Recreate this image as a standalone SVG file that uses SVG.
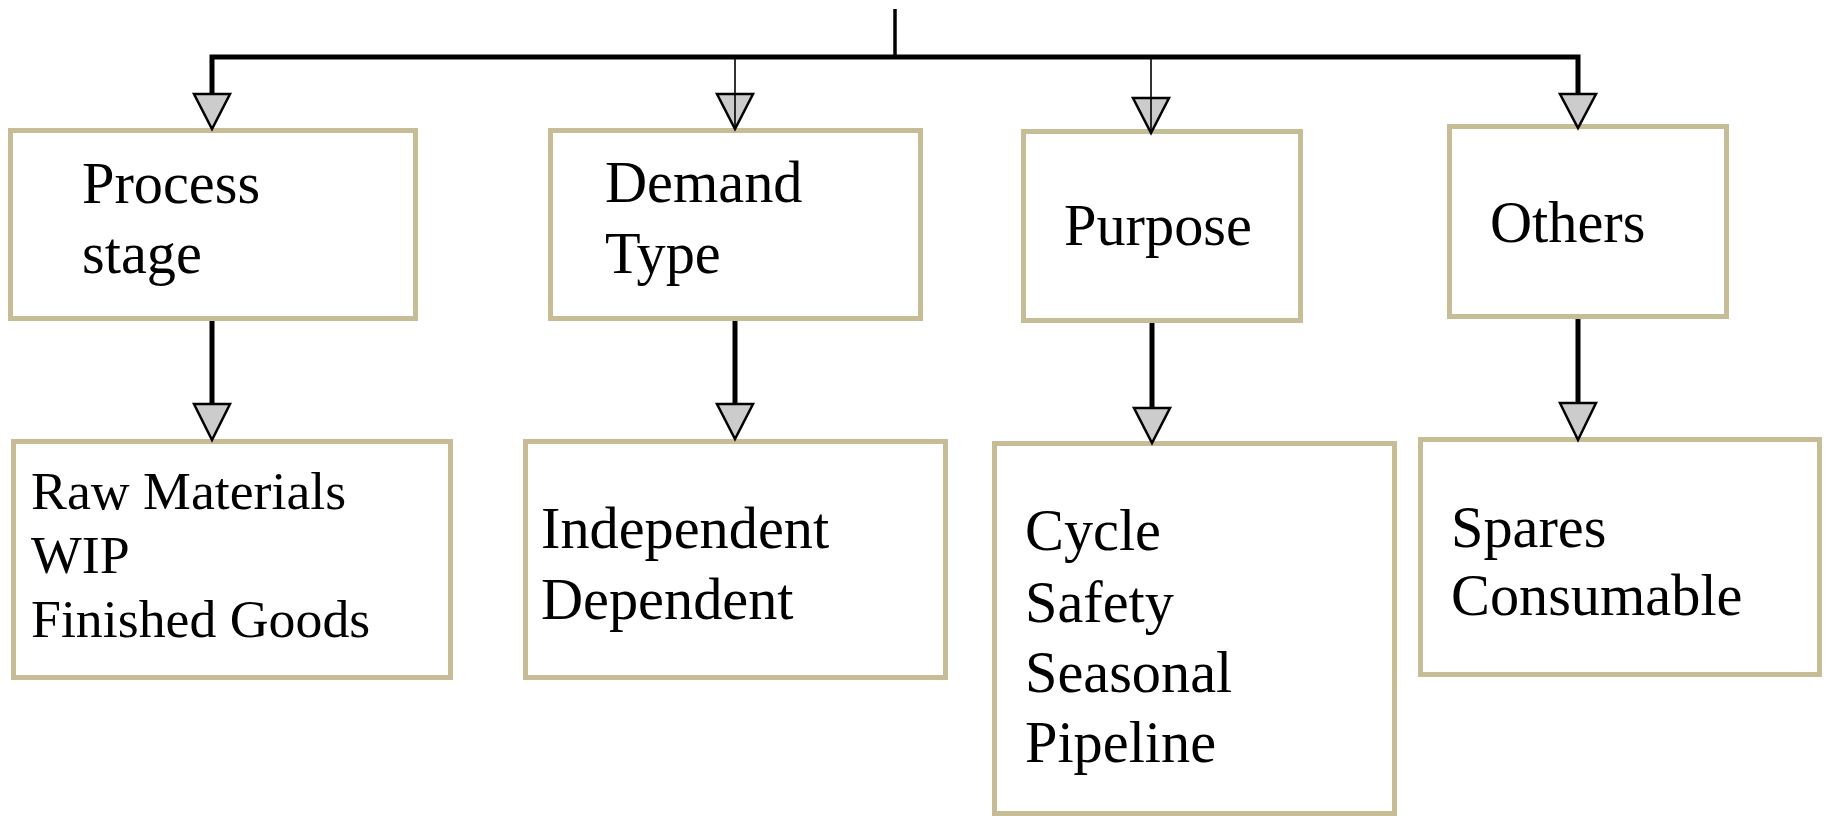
<svg xmlns="http://www.w3.org/2000/svg" width="1827" height="816" viewBox="0 0 1827 816">
<style>
.box{fill:#ffffff;stroke:#c6bd96;stroke-width:5}
.t{font-family:"Liberation Serif","Times New Roman",serif;font-size:58.3px;fill:#000}
.ts{font-family:"Liberation Serif","Times New Roman",serif;font-size:53.8px;fill:#000}
.thick{fill:none;stroke:#000;stroke-width:5}
.mid{fill:none;stroke:#000;stroke-width:3.5}
.thin{fill:none;stroke:#000;stroke-width:1.6}
.head{fill:#cccccc;stroke:#000;stroke-width:2.5;stroke-linejoin:miter}
</style>
<rect width="1827" height="816" fill="#ffffff"/>
<g id="n-process">
<rect class="box" x="10.5" y="130.5" width="405" height="188"/>
<text class="t" x="82" y="203">Process</text>
<text class="t" x="82" y="273">stage</text>
</g>
<g id="n-demand">
<rect class="box" x="550.5" y="130.5" width="370" height="188"/>
<text class="t" x="605" y="202">Demand</text>
<text class="t" x="605" y="273">Type</text>
</g>
<g id="n-purpose">
<rect class="box" x="1023.5" y="131.5" width="277" height="189"/>
<text class="t" x="1064" y="245">Purpose</text>
</g>
<g id="n-others">
<rect class="box" x="1449.5" y="126.5" width="277" height="190"/>
<text class="t" x="1490" y="242">Others</text>
</g>
<g id="n-stage-items">
<rect class="box" x="13.5" y="441.5" width="437" height="236"/>
<text class="ts" x="31" y="509">Raw Materials</text>
<text class="ts" x="31" y="573">WIP</text>
<text class="ts" x="31" y="637">Finished Goods</text>
</g>
<g id="n-demand-items">
<rect class="box" x="525.5" y="441.5" width="420" height="236"/>
<text class="t" x="541" y="548">Independent</text>
<text class="t" x="541" y="619">Dependent</text>
</g>
<g id="n-purpose-items">
<rect class="box" x="994.5" y="443.5" width="400" height="370"/>
<text class="t" x="1025" y="550">Cycle</text>
<text class="t" x="1025" y="622">Safety</text>
<text class="t" x="1025" y="692">Seasonal</text>
<text class="t" x="1025" y="762">Pipeline</text>
</g>
<g id="n-others-items">
<rect class="box" x="1420.5" y="439.5" width="399" height="235"/>
<text class="t" x="1451" y="547">Spares</text>
<text class="t" x="1451" y="615">Consumable</text>
</g>
<g id="connectors">
<line class="mid" x1="895" y1="9" x2="895" y2="57"/>
<path class="thick" d="M212,94 V57 H1578 V94" stroke-linejoin="miter"/>
<polygon class="head" points="194,94 230,94 212,129"/>
<line class="thin" x1="735" y1="57" x2="735" y2="129"/>
<polygon class="head" points="717,94 753,94 735,129"/>
<line class="thin" x1="735" y1="94" x2="735" y2="129"/>
<line class="thin" x1="1151" y1="57" x2="1151" y2="133"/>
<polygon class="head" points="1133,98 1169,98 1151,133"/>
<line class="thin" x1="1151" y1="98" x2="1151" y2="133"/>
<polygon class="head" points="1560,94 1596,94 1578,128"/>
<line class="thick" x1="212" y1="321" x2="212" y2="404"/>
<polygon class="head" points="194,404 230,404 212,440"/>
<line class="thick" x1="735" y1="321" x2="735" y2="404"/>
<polygon class="head" points="717,404 753,404 735,439"/>
<line class="thick" x1="1152" y1="323" x2="1152" y2="408"/>
<polygon class="head" points="1134,408 1170,408 1152,443"/>
<line class="thick" x1="1578" y1="319" x2="1578" y2="403"/>
<polygon class="head" points="1560,403 1596,403 1578,440"/>
</g>
</svg>
